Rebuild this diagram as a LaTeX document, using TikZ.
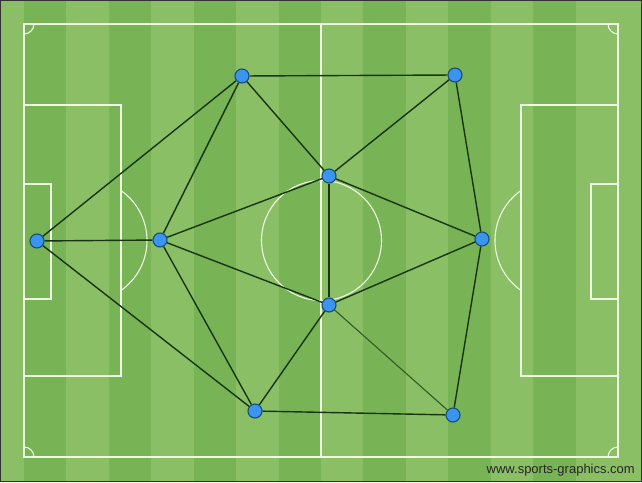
\documentclass[tikz,border=0pt]{standalone}
\usepackage{fontspec}
\setsansfont{Liberation Sans}
\usetikzlibrary{calc}

\definecolor{grasslight}{RGB}{139,191,102}
\definecolor{grassdark}{RGB}{120,179,86}
\definecolor{chalk}{RGB}{238,250,226}
\definecolor{linkgreen}{RGB}{24,52,16}
\definecolor{playerblue}{RGB}{58,148,240}
\definecolor{playerrim}{RGB}{24,78,118}

\pgfdeclarelayer{grass}
\pgfdeclarelayer{links}
\pgfsetlayers{grass,links,main}

\tikzset{
    player/.style={circle, fill=playerblue, draw=playerrim, line width=1.1pt, minimum size=14pt, inner sep=0pt},
    link/.style={draw=linkgreen, line width=1.4pt},
    weaklink/.style={draw=linkgreen!70!grassdark, line width=1.1pt},
    chalkline/.style={draw=chalk, line width=1.1pt},
}

\begin{document}
\begin{tikzpicture}[x=1pt, y=-1pt]
    \useasboundingbox (0,0) rectangle (642,482);

    \begin{pgfonlayer}{grass}
        % grass with stripes
        \fill[grasslight] (0,0) rectangle (642,482);
        \foreach \k in {0,...,6} {
            \fill[grassdark] ({24+2*\k*42.43},0) rectangle ({24+(2*\k+1)*42.43},482);
        }

        % pitch markings
        \draw[chalkline] (24,24) rectangle (618,457);
        \draw[chalkline] (321,24) -- (321,457);
        \draw[chalkline] (321.5,240.5) circle (60);

        % left half
        \draw[chalkline] (24,105) rectangle (121,376);
        \draw[chalkline] (24,184) rectangle (51,299);
        \draw[chalkline] (121,190.5) arc[start angle=-55, end angle=55, radius=61];

        % right half
        \draw[chalkline] (521,105) rectangle (618,376);
        \draw[chalkline] (591,184) rectangle (618,299);
        \draw[chalkline] (521,190.5) arc[start angle=235, end angle=125, radius=61];

        % corner arcs
        \draw[chalkline] (34,24) arc[start angle=0, end angle=90, radius=10];
        \draw[chalkline] (608,24) arc[start angle=180, end angle=90, radius=10];
        \draw[chalkline] (34,457) arc[start angle=0, end angle=-90, radius=10];
        \draw[chalkline] (608,457) arc[start angle=180, end angle=270, radius=10];

        % frame
        \draw[black!80, line width=1pt] (0.5,0.5) rectangle (641.5,481.5);
    \end{pgfonlayer}

    % players
    \node[player] (keeper) at (37,241) {};
    \node[player] (libero) at (160,240) {};
    \node[player] (lefttop) at (242,76) {};
    \node[player] (righttop) at (455,75) {};
    \node[player] (midtop) at (329,176) {};
    \node[player] (striker) at (482,239) {};
    \node[player] (midbot) at (329,305) {};
    \node[player] (leftbot) at (255,411) {};
    \node[player] (rightbot) at (453,415) {};

    % passing links
    \begin{pgfonlayer}{links}
        \draw[link] (keeper) -- (lefttop);
        \draw[link] (keeper) -- (libero);
        \draw[link] (keeper) -- (leftbot);
        \draw[link] (libero) -- (lefttop);
        \draw[link] (libero) -- (midtop);
        \draw[link] (libero) -- (midbot);
        \draw[link] (libero) -- (leftbot);
        \draw[link] (lefttop) -- (righttop);
        \draw[link] (lefttop) -- (midtop);
        \draw[link] (righttop) -- (midtop);
        \draw[link] (righttop) -- (striker);
        \draw[link] (midtop) -- (midbot);
        \draw[link] (midtop) -- (striker);
        \draw[link] (midbot) -- (striker);
        \draw[link] (midbot) -- (leftbot);
        \draw[weaklink] (midbot) -- (rightbot);
        \draw[link] (leftbot) -- (rightbot);
        \draw[link] (striker) -- (rightbot);
    \end{pgfonlayer}

    % credit
    \node[anchor=base east, inner sep=0pt, text=black!85, font=\sffamily\fontsize{13}{15}\selectfont] (credit) at (635,473) {www.sports-graphics.com};
\end{tikzpicture}
\end{document}
